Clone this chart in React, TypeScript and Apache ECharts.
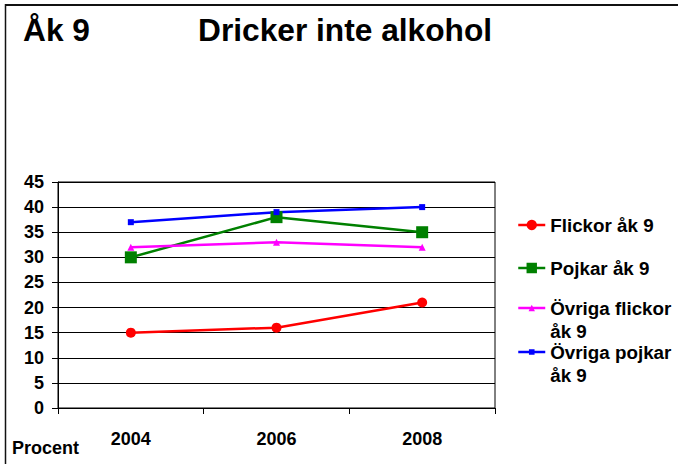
import React, { useEffect, useRef } from "react";
import * as echarts from "echarts";

const years = ["2004", "2006", "2008"];
const flickor = [15, 16, 21];
const pojkar = [30, 38, 35];
const ovrigaFlickor = [32, 33, 32];
const ovrigaPojkar = [37, 39, 40];
const seriesNames = ["Flickor åk 9", "Pojkar åk 9", "Övriga flickor\nåk 9", "Övriga pojkar\nåk 9"];
const seriesColors = ["#ff0000", "#008000", "#ff00ff", "#0000ff"];

const FONT = "'Liberation Sans', Arial, sans-serif";

export default function App() {
  const ref = useRef<HTMLDivElement>(null);
  useEffect(() => {
    if (!ref.current) return;
    const chart = echarts.init(ref.current, undefined, { renderer: "svg" });
    const lh = 23;
    const textBase = { fontFamily: FONT, fontSize: 18.8, fontWeight: 700, color: "#000", lineHeight: lh };
    const legendBase = {
      orient: "vertical",
      left: 517,
      padding: 0,
      itemWidth: 27,
      itemGap: 5,
      textStyle: textBase,
      lineStyle: { width: 2.5 },
    };
    const pushDown = (name: string) => "\n" + name;
    chart.setOption({
      animation: false,
      textStyle: { fontFamily: FONT },
      grid: {
        left: 58,
        right: 183,
        top: 182,
        bottom: 56,
        show: true,
        borderColor: "#000",
        borderWidth: 1,
        backgroundColor: "transparent",
      },
      legend: [
        { ...legendBase, top: 213.5, itemHeight: 13, data: [seriesNames[0]] },
        { ...legendBase, top: 256.5, itemHeight: 13, data: [seriesNames[1]] },
        { ...legendBase, top: 273.5, itemHeight: 8, formatter: pushDown, data: [seriesNames[2]] },
        { ...legendBase, top: 317.5, itemHeight: 7, formatter: pushDown, data: [seriesNames[3]] },
      ],
      xAxis: {
        type: "category",
        data: years,
        boundaryGap: true,
        axisLine: { lineStyle: { color: "#000", width: 1 } },
        axisTick: { show: true, interval: 0, length: 6, lineStyle: { color: "#000" } },
        axisLabel: { fontFamily: FONT, fontSize: 18, fontWeight: "bold", color: "#000", margin: 22, interval: 0 },
        splitLine: { show: false },
      },
      yAxis: {
        type: "value",
        min: 0,
        max: 45,
        interval: 5,
        axisLine: { show: true, lineStyle: { color: "#000", width: 1 } },
        axisTick: { show: true, length: 6, lineStyle: { color: "#000" } },
        axisLabel: { fontFamily: FONT, fontSize: 18, fontWeight: "bold", color: "#000", margin: 14 },
        splitLine: { show: true, lineStyle: { color: "#000", width: 1 } },
      },
      series: [
        {
          name: seriesNames[0],
          type: "line",
          data: flickor,
          color: seriesColors[0],
          symbol: "circle",
          symbolSize: 10,
          lineStyle: { width: 2.5 },
        },
        {
          name: seriesNames[1],
          type: "line",
          data: pojkar,
          color: seriesColors[1],
          symbol: "rect",
          symbolSize: 12,
          lineStyle: { width: 2.5 },
        },
        {
          name: seriesNames[2],
          type: "line",
          data: ovrigaFlickor,
          color: seriesColors[2],
          symbol: "triangle",
          symbolSize: 7,
          lineStyle: { width: 2.5 },
        },
        {
          name: seriesNames[3],
          type: "line",
          data: ovrigaPojkar,
          color: seriesColors[3],
          symbol: "rect",
          symbolSize: 6,
          lineStyle: { width: 2.5 },
        },
      ],
      graphic: [
        { type: "line", shape: { x1: 5, y1: 5, x2: 678, y2: 5 }, style: { stroke: "#111", lineWidth: 2 } },
        { type: "line", shape: { x1: 5.5, y1: 4, x2: 5.5, y2: 464 }, style: { stroke: "#111", lineWidth: 1.5 } },
        {
          type: "text",
          x: 23,
          y: 30,
          style: { text: "Åk 9", font: `bold 31.7px ${FONT}`, fill: "#000", verticalAlign: "middle" },
        },
        {
          type: "text",
          x: 198,
          y: 30,
          style: { text: "Dricker inte alkohol", font: `bold 31.7px ${FONT}`, fill: "#000", verticalAlign: "middle" },
        },
        {
          type: "text",
          x: 12,
          y: 448,
          style: { text: "Procent", font: `bold 18px ${FONT}`, fill: "#000", verticalAlign: "middle" },
        },
      ],
    });
    return () => chart.dispose();
  }, []);
  return <div ref={ref} style={{ width: 678, height: 464, position: "absolute", left: 0, top: 0, background: "#fff" }} />;
}
